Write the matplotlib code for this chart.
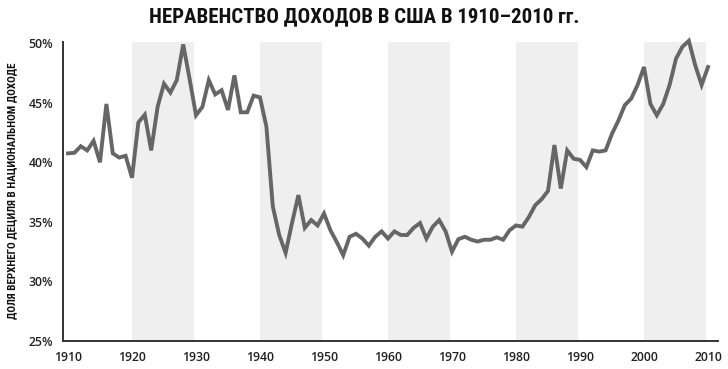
import matplotlib
matplotlib.use("Agg")
import matplotlib.pyplot as plt
from matplotlib import font_manager

# top decile share of national income, USA
years = list(range(1910, 2011))
share = [
    40.75, 40.8, 41.35, 41.0, 41.8, 40.0, 44.9, 40.75, 40.4, 40.55,   # 1910s
    38.7, 43.35, 44.0, 41.0, 44.65, 46.6, 45.85, 46.9, 49.9, 47.0,     # 1920s
    43.95, 44.65, 46.9, 45.7, 46.05, 44.4, 47.3, 44.2, 44.2, 45.6,     # 1930s
    45.45, 43.0, 36.3, 33.9, 32.4, 34.9, 37.25, 34.5, 35.15, 34.7,     # 1940s
    35.7, 34.3, 33.3, 32.2, 33.75, 34.0, 33.6, 33.0, 33.75, 34.2,      # 1950s
    33.6, 34.2, 33.9, 33.9, 34.5, 34.9, 33.6, 34.6, 35.15, 34.2,       # 1960s
    32.5, 33.55, 33.75, 33.5, 33.35, 33.5, 33.5, 33.7, 33.5, 34.3,     # 1970s
    34.7, 34.6, 35.4, 36.4, 36.9, 37.6, 41.45, 37.8, 41.0, 40.3,       # 1980s
    40.2, 39.6, 41.0, 40.9, 41.0, 42.4, 43.5, 44.8, 45.35, 46.5,       # 1990s
    48.0, 44.9, 43.95, 44.9, 46.5, 48.7, 49.7, 50.2, 48.15, 46.5,      # 2000s
    48.0,
]
decades = [1910, 1920, 1930, 1940, 1950, 1960, 1970, 1980, 1990, 2000, 2010]
shaded = [(1920, 1930), (1940, 1950), (1960, 1970), (1980, 1990), (2000, 2010)]
yticks = [25, 30, 35, 40, 45, 50]

installed = {f.name for f in font_manager.fontManager.ttflist}
narrow = "DejaVu Sans"
for name in ["Liberation Sans Narrow", "DejaVu Sans Condensed", "Roboto Condensed", "Open Sans Condensed"]:
    if name in installed:
        narrow = name
        break

fig = plt.figure(figsize=(7.28, 3.69), dpi=100)
ax = fig.add_axes([63 / 728, 1 - 341 / 369, 655 / 728, 299 / 369])

for a, b in shaded:
    ax.axvspan(a, b - 0.3, ymin=0.005, ymax=1, color="#efefef", lw=0, zorder=0)

ax.plot(years, share, color="#666666", linewidth=2.8, solid_joinstyle="miter",
        zorder=3, clip_on=False)

ax.set_xlim(1909.22, 2011.56)
ax.set_ylim(25, 50.1)
ax.set_xticks(decades)
ax.set_xticklabels([str(d) for d in decades])
ax.set_yticks(yticks)
ax.set_yticklabels([f"{v}%" for v in yticks])
ax.tick_params(length=0, labelsize=8.8, labelcolor="#222222")
ax.tick_params(axis="y", pad=7)
ax.tick_params(axis="x", pad=7)
for lab in ax.get_xticklabels() + ax.get_yticklabels():
    lab.set_fontweight("semibold")
    lab.set_family("Open Sans")

for side in ["top", "right"]:
    ax.spines[side].set_visible(False)
for side in ["left", "bottom"]:
    ax.spines[side].set_color("#333333")
    ax.spines[side].set_linewidth(1.4)

fig.text(364 / 728, 1 - 17 / 369, "НЕРАВЕНСТВО ДОХОДОВ В США В 1910–2010 гг.",
         ha="center", va="center", fontsize=15, fontweight="bold",
         family=narrow, color="#111111")
fig.text(12 / 728, 1 - 191 / 369, "ДОЛЯ ВЕРХНЕГО ДЕЦИЛЯ В НАЦИОНАЛЬНОМ ДОХОДЕ",
         ha="center", va="center", rotation=90, fontsize=8, fontweight="bold",
         family=narrow, color="#111111")

fig.savefig("out.png", dpi=100)
